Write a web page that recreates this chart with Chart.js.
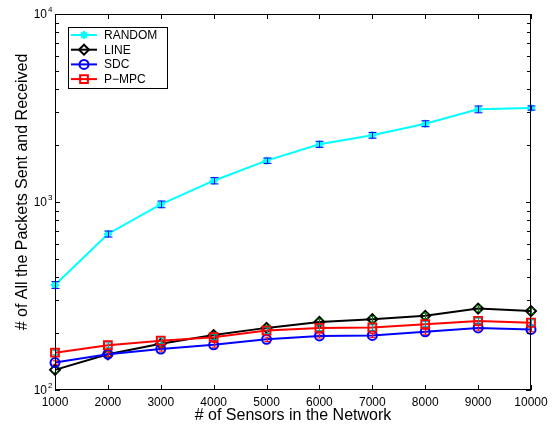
<!DOCTYPE html>
<html>
<head>
<meta charset="utf-8">
<script src="https://cdn.jsdelivr.net/npm/chart.js@4"></script>
<style>
  body { margin: 0; background: #fff; }
  canvas { display: block; }
</style>
</head>
<body>
<canvas id="myChart" width="559" height="428"></canvas>
<script>
// x categories: number of sensors
const sensors = [1000, 2000, 3000, 4000, 5000, 6000, 7000, 8000, 9000, 10000];

// series values
const randomVals = [362, 676, 972, 1298, 1659, 2028, 2264, 2610, 3112, 3162];
const lineVals = [128, 155, 176, 196, 214, 230, 238, 248, 271, 263];
const sdcVals = [140, 155, 165, 174, 186, 194, 195, 204, 214, 210];
const pmpcVals = [158, 173, 183, 191, 207, 214, 215, 224, 233, 228];

// half-length of error bars
const randomErr = [15, 25, 40, 50, 55, 75, 80, 95, 130, 80];
const lineErr = [4, 5, 6, 6, 7, 8, 8, 8, 9, 8];
const sdcErr = [3, 4, 4, 5, 5, 5, 5, 6, 6, 6];
const pmpcErr = [4, 5, 6, 6, 7, 7, 7, 7, 8, 8];

const yTickVals = [100, 1000, 10000];
const yTickExp = ['2', '3', '4'];

const FONT = "'Liberation Sans', Arial, Helvetica, sans-serif";
const ctx = document.getElementById('myChart');

function pts(vals) {
  return sensors.map((s, i) => ({ x: s, y: vals[i] }));
}

let series = [
  { label: 'RANDOM', vals: randomVals, err: randomErr, color: '#00ffff', errColor: '#0000ff', style: 'star', r: 4, cap: 4, order: 4 },
  { label: 'LINE', vals: lineVals, err: lineErr, color: '#000000', errColor: '#008000', style: 'rectRot', r: 5, cap: 3, order: 3 },
  { label: 'SDC', vals: sdcVals, err: sdcErr, color: '#0000ff', errColor: '#ff0000', style: 'circle', r: 4.5, cap: 3, order: 2 },
  { label: 'P\u2212MPC', vals: pmpcVals, err: pmpcErr, color: '#ff0000', errColor: '#00a0a0', style: 'rect', r: 5.5, cap: 3, order: 1 },
];

const frame = {
  id: 'frame',
  afterDatasetDraw(chart, args) {
    let s = series[args.index];
    let xs = chart.scales.x, ys = chart.scales.y;
    let c = chart.ctx;
    c.save();
    c.strokeStyle = s.errColor;
    c.lineWidth = 1;
    s.vals.forEach((v, i) => {
      let px = Math.round(xs.getPixelForValue(sensors[i])) + 0.5;
      let top = ys.getPixelForValue(v + s.err[i]);
      let bot = ys.getPixelForValue(v - s.err[i]);
      c.beginPath();
      c.moveTo(px, top); c.lineTo(px, bot);
      c.moveTo(px - s.cap, top); c.lineTo(px + s.cap, top);
      c.moveTo(px - s.cap, bot); c.lineTo(px + s.cap, bot);
      c.stroke();
    });
    c.restore();
  },
  afterDraw(chart) {
    let c = chart.ctx;
    let a = chart.chartArea;
    let xs = chart.scales.x, ys = chart.scales.y;
    c.save();
    c.strokeStyle = '#000';
    c.lineWidth = 1;
    c.strokeRect(a.left + 0.5, a.top + 0.5, a.right - a.left - 1, a.bottom - a.top - 1);

    // x ticks, bottom and top, pointing inward
    c.beginPath();
    sensors.forEach(s => {
      let px = Math.round(xs.getPixelForValue(s)) + 0.5;
      c.moveTo(px, a.bottom); c.lineTo(px, a.bottom - 5);
      c.moveTo(px, a.top); c.lineTo(px, a.top + 5);
    });
    // y log ticks, left and right
    [100, 1000].forEach(d => {
      for (let m = 1; m <= 9; m++) {
        let py = Math.round(ys.getPixelForValue(d * m)) + 0.5;
        let len = m === 1 ? 5 : 4;
        c.moveTo(a.left, py); c.lineTo(a.left + len, py);
        c.moveTo(a.right, py); c.lineTo(a.right - len, py);
      }
    });
    c.stroke();

    // y tick labels 10^n
    c.fillStyle = '#000';
    yTickVals.forEach((v, i) => {
      let py = ys.getPixelForValue(v);
      c.font = '12px ' + FONT;
      c.textAlign = 'right';
      c.textBaseline = 'middle';
      c.fillText('10', a.left - 8, py + 1);
      c.font = '8px ' + FONT;
      c.textAlign = 'left';
      c.textBaseline = 'alphabetic';
      c.fillText(yTickExp[i], a.left - 7, py - 2);
    });

    // y title
    c.save();
    c.translate(23, 192);
    c.rotate(-Math.PI / 2);
    c.font = '16px ' + FONT;
    c.textAlign = 'center';
    c.textBaseline = 'middle';
    c.fillText('# of All the Packets Sent and Received', 0, 0);
    c.restore();

    // legend box
    c.fillStyle = '#fff';
    c.fillRect(68, 27, 99, 61);
    c.strokeStyle = '#000';
    c.strokeRect(68.5, 27.5, 99, 61);
    series.forEach((s, i) => {
      let ry = 35 + i * 14.7;
      c.strokeStyle = s.color;
      c.lineWidth = 2;
      c.beginPath();
      c.moveTo(71, ry); c.lineTo(97, ry);
      c.stroke();
      c.fillStyle = 'rgba(0,0,0,0)';
      Chart.helpers.drawPoint(c, { pointStyle: s.style, radius: s.r, borderWidth: 2, rotation: 0 }, 84, ry);
      c.fillStyle = '#000';
      c.font = '12px ' + FONT;
      c.textAlign = 'left';
      c.textBaseline = 'middle';
      c.fillText(s.label, 104, ry + 0.5);
    });
    c.restore();
  }
};

new Chart(ctx, {
  type: 'line',
  data: {
    datasets: series.map(s => ({
      label: s.label,
      data: pts(s.vals),
      borderColor: s.color,
      borderWidth: 2,
      pointStyle: s.style,
      pointRadius: s.r,
      pointBorderWidth: 2,
      pointBorderColor: s.color,
      pointBackgroundColor: 'rgba(0,0,0,0)',
      tension: 0,
      clip: false,
      order: s.order
    }))
  },
  options: {
    responsive: false,
    animation: false,
    devicePixelRatio: 1,
    layout: { padding: { top: 14, right: 28, left: 0, bottom: 0 } },
    plugins: { legend: { display: false }, tooltip: { enabled: false } },
    scales: {
      x: {
        type: 'linear',
        min: 1000,
        max: 10000,
        afterBuildTicks: s => { s.ticks = sensors.map(v => ({ value: v })); },
        ticks: {
          font: { family: FONT, size: 12 },
          color: '#000',
          padding: 5,
          maxRotation: 0,
          autoSkip: false,
          callback: v => String(v)
        },
        grid: { display: false, drawTicks: false },
        border: { display: false },
        title: {
          display: true,
          text: '# of Sensors in the Network',
          font: { family: FONT, size: 16 },
          color: '#000',
          padding: { top: 0, bottom: 3 }
        },
        afterFit: s => { s.height = 38; }
      },
      y: {
        type: 'logarithmic',
        min: 100,
        max: 10000,
        ticks: { display: false },
        grid: { display: false, drawTicks: false },
        border: { display: false },
        afterFit: s => { s.width = 55; }
      }
    }
  },
  plugins: [frame]
});
</script>
</body>
</html>
